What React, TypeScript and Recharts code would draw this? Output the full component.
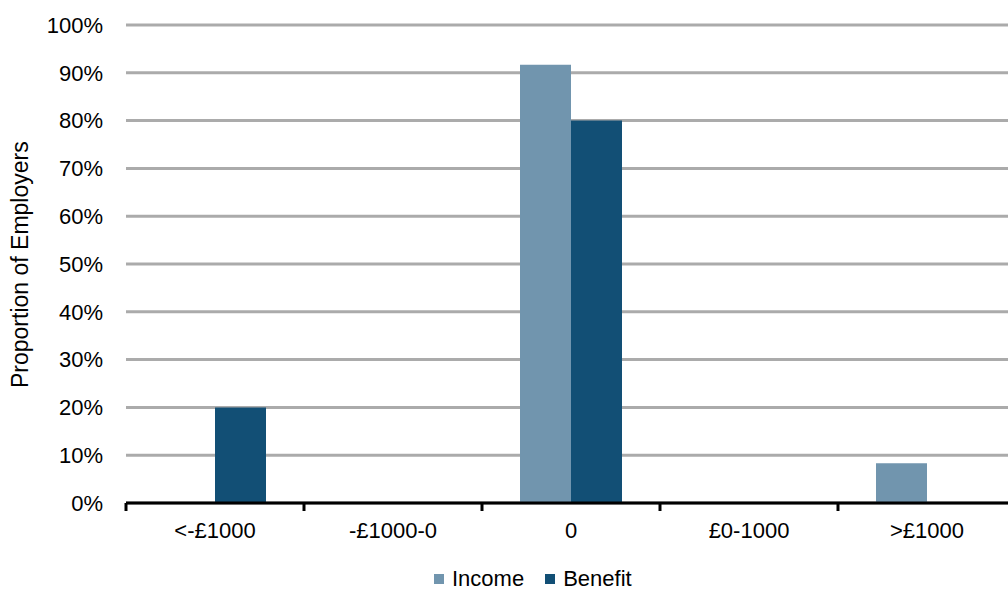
import { Bar, BarChart, CartesianGrid, XAxis, YAxis } from 'recharts'

const categories = ['<-£1000', '-£1000-0', '0', '£0-1000', '>£1000']
const income = [0, 0, 91.7, 0, 8.3]
const benefit = [20, 0, 80, 0, 0]
const yTicks = [0, 10, 20, 30, 40, 50, 60, 70, 80, 90, 100]

const INCOME = '#7195ae'
const BENEFIT = '#124f75'
const FONT = 'Liberation Sans, Arial, sans-serif'

const rows = categories.map((c, i) => ({ cat: c, income: income[i], benefit: benefit[i] }))

function CatTick(props: any) {
  const { x, y, payload, index } = props
  const half = payload?.offset ?? 89
  const last = index === categories.length - 1
  return (
    <g>
      <line x1={x - half} x2={x - half} y1={y} y2={y + 8} stroke="#000" strokeWidth={3} />
      {last && <line x1={x + half} x2={x + half} y1={y} y2={y + 8} stroke="#000" strokeWidth={3} />}
      <text x={x} y={y + 35} textAnchor="middle" fontSize={22} fontFamily={FONT} fill="#000">
        {payload.value}
      </text>
    </g>
  )
}

function LegendBox() {
  const items = [
    { name: 'Income', color: INCOME },
    { name: 'Benefit', color: BENEFIT },
  ]
  return (
    <div
      style={{
        position: 'absolute',
        left: 434,
        top: 568,
        display: 'flex',
        alignItems: 'center',
        fontFamily: FONT,
        fontSize: 22,
        lineHeight: '22px',
      }}
    >
      {items.map((it) => (
        <div key={it.name} style={{ display: 'flex', alignItems: 'center', marginRight: 21 }}>
          <span style={{ width: 10, height: 10, background: it.color, marginRight: 8, display: 'inline-block' }} />
          <span>{it.name}</span>
        </div>
      ))}
    </div>
  )
}

export default function App() {
  return (
    <div style={{ position: 'absolute', left: 0, top: 0, width: 1008, height: 590, overflow: 'hidden', background: '#fff' }}>
      <BarChart
        width={1016}
        height={590}
        data={rows}
        margin={{ top: 25, right: 0, left: 1, bottom: 0 }}
        barGap={0}
        barSize={51}
      >
        <CartesianGrid horizontal vertical={false} stroke="#ababab" strokeWidth={3} />
        <XAxis
          dataKey="cat"
          interval={0}
          tickLine={false}
          tickSize={0}
          tickMargin={0}
          axisLine={{ stroke: '#000', strokeWidth: 3 }}
          tick={<CatTick />}
          height={87}
        />
        <YAxis
          domain={[0, 100]}
          ticks={yTicks}
          tickFormatter={(v) => `${v}%`}
          axisLine={false}
          tickLine={false}
          tickSize={0}
          tickMargin={23}
          width={125}
          tick={{ fontSize: 22, fontFamily: FONT, fill: '#000' }}
          label={{
            value: 'Proportion of Employers',
            angle: -90,
            position: 'insideLeft',
            dx: 14,
            dy: 124,
            style: { fontSize: 23, fontFamily: FONT, fill: '#000' },
          }}
        />
        <Bar dataKey="income" name="Income" fill={INCOME} isAnimationActive={false} />
        <Bar dataKey="benefit" name="Benefit" fill={BENEFIT} isAnimationActive={false} />
      </BarChart>
      <LegendBox />
    </div>
  )
}
